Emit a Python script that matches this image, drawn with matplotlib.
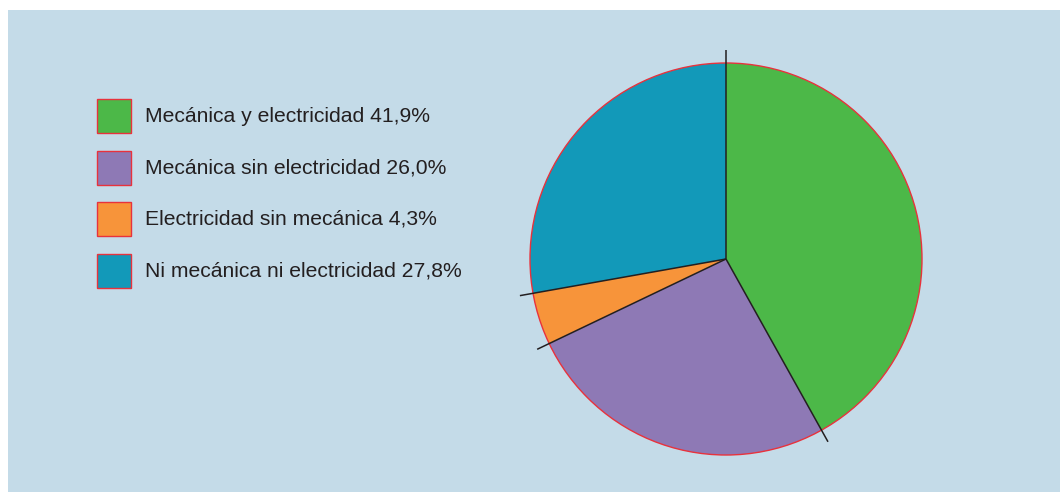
import matplotlib.pyplot as plt
import numpy as np
from matplotlib.patches import Rectangle, Circle

plt.rcParams['font.family'] = ['Liberation Sans', 'DejaVu Sans']

# data
categorias = ['Mecánica y electricidad', 'Mecánica sin electricidad',
              'Electricidad sin mecánica', 'Ni mecánica ni electricidad']
porcentajes = [41.9, 26.0, 4.3, 27.8]
colores = ['#4cb848', '#8e79b5', '#f7943a', '#1299b9']

W, H = 1060, 492
fig = plt.figure(figsize=(W / 100, H / 100), dpi=100, facecolor='white')

# light blue panel
fig.add_artist(Rectangle((8 / W, 0), 1 - 8 / W, (H - 10) / H,
                         transform=fig.transFigure, facecolor='#c4dbe8',
                         edgecolor='none', zorder=0))

# pie axes: center (726, 259) px from top-left, radius 196 px
R = 196
lim = 1.2
side = 2 * R * lim
cx, cy = 726, H - 259
ax = fig.add_axes([(cx - side / 2) / W, (cy - side / 2) / H, side / W, side / H])

ax.pie(porcentajes, colors=colores, startangle=90, counterclock=False,
       wedgeprops=dict(edgecolor='none', linewidth=0))
ax.add_patch(Circle((0, 0), 1, facecolor='none', edgecolor='#e8323c',
                    linewidth=1.0, zorder=3))

# radial separators reaching past the rim
bordes = np.concatenate([[0], np.cumsum(porcentajes)[:-1]])
for b in bordes:
    ang = np.deg2rad(90 - 360 * b / sum(porcentajes))
    ax.plot([0, 1.068 * np.cos(ang)], [0, 1.068 * np.sin(ang)],
            color='#231f20', linewidth=1.1, zorder=4, solid_capstyle='butt')

ax.set_xlim(-lim, lim)
ax.set_ylim(-lim, lim)
ax.set_aspect('equal')
ax.axis('off')

# legend
for i, (cat, p, c) in enumerate(zip(categorias, porcentajes, colores)):
    top = 99 + i * 51.7
    fig.add_artist(Rectangle((97 / W, (H - top - 34) / H), 34 / W, 34 / H,
                             transform=fig.transFigure, facecolor=c,
                             edgecolor='#e8323c', linewidth=1.0))
    etiqueta = f"{cat} {p:.1f}%".replace('.', ',')
    fig.text(145 / W, (H - top - 17) / H, etiqueta, fontsize=15.2,
             color='#231f20', va='center', ha='left')

fig.savefig('out.png', dpi=100, facecolor='white')
